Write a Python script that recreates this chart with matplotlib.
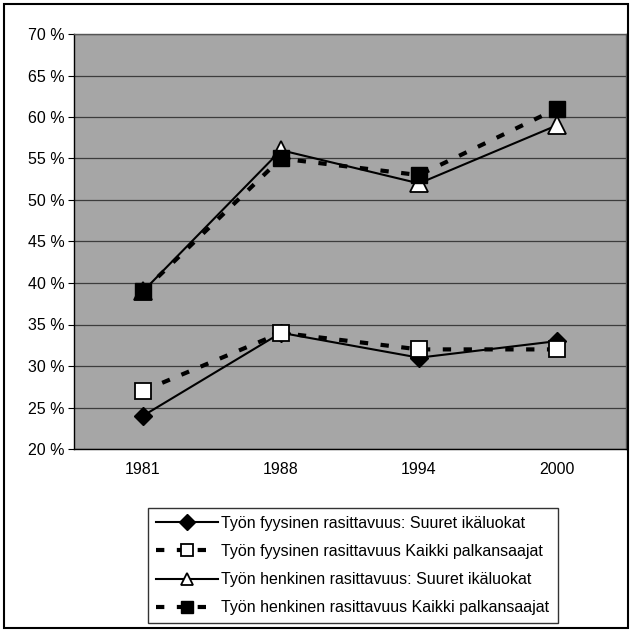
import matplotlib
matplotlib.use("Agg")
import matplotlib.pyplot as plt
from matplotlib.patches import Rectangle

plt.rcParams['font.family'] = ['Liberation Sans', 'DejaVu Sans']

years = ["1981", "1988", "1994", "2000"]
fyys_suuret = [24, 34, 31, 33]
fyys_kaikki = [27, 34, 32, 32]
henk_suuret = [39, 56, 52, 59]
henk_kaikki = [39, 55, 53, 61]
labels = [
    "Työn fyysinen rasittavuus: Suuret ikäluokat",
    "Työn fyysinen rasittavuus Kaikki palkansaajat",
    "Työn henkinen rasittavuus: Suuret ikäluokat",
    "Työn henkinen rasittavuus Kaikki palkansaajat",
]
yticks = list(range(20, 71, 5))

fig = plt.figure(figsize=(6.32, 6.32), dpi=100)
fig.patches.append(Rectangle((4/632, 4/632), 624/632, 624/632, transform=fig.transFigure,
                             fill=False, edgecolor='black', linewidth=1.5))
ax = fig.add_axes([74/632, 1-449/632, 552/632, 415/632])
ax.set_facecolor('#a6a6a6')
x = range(len(years))

l1, = ax.plot(x, fyys_suuret, color='black', lw=1.5, marker='D', ms=9,
              mfc='black', mec='black', zorder=3)
l2, = ax.plot(x, fyys_kaikki, color='black', lw=3, ls=(0, (2, 3)), marker='s', ms=12,
              mfc='white', mec='black', mew=1.3, zorder=3)
l3, = ax.plot(x, henk_suuret, color='black', lw=1.5, marker='^', ms=13,
              mfc='white', mec='black', mew=1.3, zorder=3)
l4, = ax.plot(x, henk_kaikki, color='black', lw=3, ls=(0, (2, 3)), marker='s', ms=12,
              mfc='black', mec='black', zorder=3)

ax.set_xlim(-0.5, len(years) - 0.5)
ax.set_ylim(20, 70)
ax.set_yticks(yticks)
ax.set_yticklabels([f"{v} %" for v in yticks], fontsize=11.5)
ax.set_xticks(list(x))
ax.set_xticklabels(years, fontsize=11.5)
ax.tick_params(axis='x', length=0, pad=9)
ax.tick_params(axis='y', length=4, direction='out', pad=3)
ax.yaxis.grid(True, color='#3c3c3c', lw=0.9)
ax.set_axisbelow(True)
for s in ['left', 'bottom']:
    ax.spines[s].set_color('black')
    ax.spines[s].set_linewidth(1)
for s in ['top', 'right']:
    ax.spines[s].set_color('#555555')
    ax.spines[s].set_linewidth(1)

leg = fig.legend([l1, l2, l3, l4], labels, loc='upper left',
                 bbox_to_anchor=(148/632, 1-508/632), fontsize=11.5,
                 frameon=True, fancybox=False, edgecolor='black',
                 handlelength=3.9, handletextpad=0.2, borderpad=0.5,
                 labelspacing=0.82, borderaxespad=0)
leg.get_frame().set_linewidth(1)
for h in leg.legend_handles:
    h.set_markersize(8)

fig.savefig("out.png", dpi=100)
